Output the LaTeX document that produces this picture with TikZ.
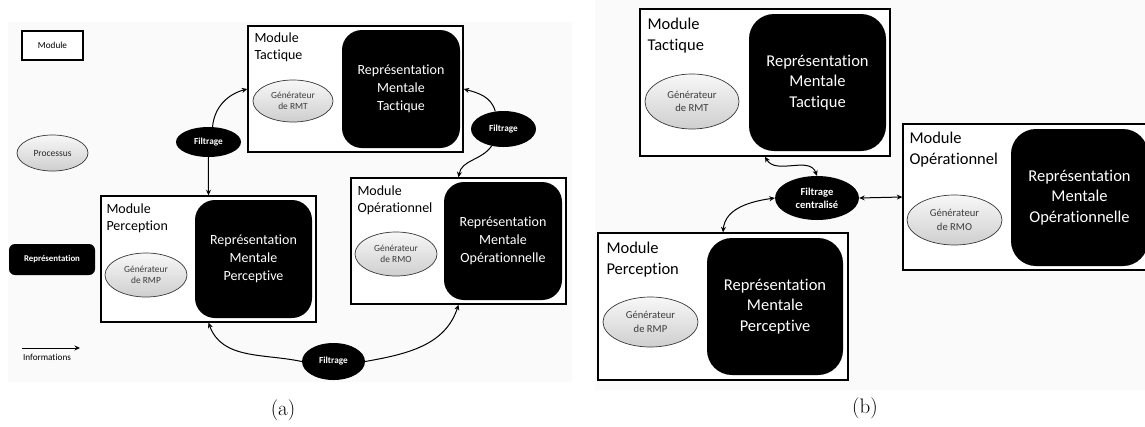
\documentclass[tikz,border=0pt]{standalone}
\usepackage{fontspec}
\newfontfamily\calfont[Ligatures=NoCommon]{Carlito}
\usetikzlibrary{shapes.geometric,arrows.meta}
\definecolor{bgc}{RGB}{250,250,250}
\definecolor{gentext}{RGB}{60,60,60}
\definecolor{genborder}{RGB}{55,55,55}
\begin{document}
\begin{tikzpicture}[x=1pt,y=1pt,
  modbox/.style={draw=black, line width=1.4pt, fill=white, rectangle, inner sep=0pt},
  modbigA/.style={modbox, minimum width=215pt, minimum height=126pt},
  modbigB/.style={modbox, minimum width=250pt, minimum height=147pt},
  labA/.style={anchor=north west, inner sep=0pt, align=left, font=\calfont\fontsize{14}{17}\selectfont},
  labB/.style={anchor=north west, inner sep=0pt, align=left, font=\calfont\fontsize{16.5}{20.5}\selectfont},
  repA/.style={fill=black, text=white, rectangle, rounded corners=20pt, align=center, inner sep=0pt,
    minimum width=118pt, minimum height=118pt, font=\calfont\fontsize{14}{18}\selectfont},
  repB/.style={fill=black, text=white, rectangle, rounded corners=25pt, align=center, inner sep=0pt,
    minimum width=137pt, minimum height=137pt, font=\calfont\fontsize{16.5}{20.5}\selectfont},
  gen/.style={ellipse, draw=genborder, line width=0.7pt, top color=gray!6, bottom color=gray!38,
    text=gentext, align=center, inner sep=0pt},
  genA/.style={gen, minimum width=82pt, minimum height=44pt, font=\calfont\fontsize{9.4}{11.5}\selectfont},
  genB/.style={gen, minimum width=95pt, minimum height=52pt, font=\calfont\fontsize{10.6}{13.5}\selectfont},
  filt/.style={ellipse, fill=black, text=white, align=center, inner sep=0pt,
    font=\calfont\bfseries\fontsize{9.3}{11}\selectfont},
  conn/.style={line width=1pt, -{Stealth[length=5.5pt,width=5pt]}},
  dconn/.style={line width=1pt, {Stealth[length=5.5pt,width=5pt]}-{Stealth[length=5.5pt,width=5pt]}},
  captxt/.style={inner sep=0pt, font=\rmfamily\fontsize{21}{24}\selectfont}
]
\useasboundingbox (0,0) rectangle (1145,-426);
\clip (0,0) rectangle (1145,-426);
% panel backgrounds
\fill[bgc] (8,-22) rectangle (572,-382);
\fill[bgc] (595,0) rectangle (1145,-390);

% ---------- panel (a): legend ----------
\node[modbox, line width=1.3pt, minimum width=61pt, minimum height=29pt,
  font=\calfont\fontsize{9.2}{11}\selectfont] (legMod) at (52.5,-45.5) {Module};
\node[gen, minimum width=71pt, minimum height=36pt, text=black!85,
  font=\calfont\fontsize{9.5}{11}\selectfont] (legProc) at (52.5,-153) {Processus};
\node[fill=black, text=white, rectangle, rounded corners=6pt, inner sep=0pt,
  minimum width=86pt, minimum height=31pt,
  font=\calfont\bfseries\fontsize{8.8}{11}\selectfont] (legRep) at (52,-259.5) {Représentation};
\coordinate (infoS) at (22,-348);
\coordinate (infoE) at (80,-348);
\draw[conn] (infoS) -- (infoE);
\node[inner sep=0pt, font=\calfont\fontsize{9.2}{11}\selectfont] (legInfo) at (47,-357.5) {Informations};

% ---------- panel (a): modules ----------
\node[modbigA] (tacA) at (355.5,-89) {};
\node[labA] (labTA) at ([shift={(7pt,-7pt)}]tacA.north west) {Module\\Tactique};
\node[repA] (repTA) at (401,-89) {Représentation\\Mentale\\Tactique};
\node[genA, minimum width=80pt, minimum height=42pt] (genTA) at (293,-101) {Générateur\\de RMT};

\node[modbigA] (percA) at (208.5,-259) {};
\node[labA] (labPA) at ([shift={(6pt,-8pt)}]percA.north west) {Module\\Perception};
\node[repA, minimum width=117pt] (repPA) at (253.5,-259) {Représentation\\Mentale\\Perceptive};
\node[genA] (genPA) at (146,-275) {Générateur\\de RMP};

\node[modbigA] (opA) at (458.5,-241) {};
\node[labA] (labOA) at ([shift={(7pt,-8pt)}]opA.north west) {Module\\Opérationnel};
\node[repA] (repOA) at (503,-241) {Représentation\\Mentale\\Opérationnelle};
\node[genA] (genOA) at (396,-254) {Générateur\\de RMO};

\node[filt, minimum width=65pt, minimum height=30pt] (filtL) at (208.5,-142) {Filtrage};
\node[filt, minimum width=65pt, minimum height=36pt] (filtR) at (503.5,-129) {Filtrage};
\node[filt, minimum width=63pt, minimum height=37pt] (filtB) at (333.5,-361.5) {Filtrage};

\draw[conn] (filtL.75) to[out=85,in=195] (tacA.west);
\draw[conn] (filtL.south) to[out=-92,in=90] (percA.north);
\draw[conn] (filtR.115) to[out=105,in=-15] (tacA.east);
\draw[conn] (filtR.235) to[out=235,in=80] (opA.north);
\draw[conn] (filtB.west) to[out=168,in=-70] (percA.south);
\draw[conn] (filtB.east) to[out=10,in=-108] (opA.south);

\node[captxt] (capA) at (283,-410) {(a)};

% ---------- panel (b) ----------
\node[modbigB] (tacB) at (765,-82.5) {};
\node[labB] (labTB) at ([shift={(8pt,-10pt)}]tacB.north west) {Module\\Tactique};
\node[repB] (repTB) at (817.5,-82.5) {Représentation\\Mentale\\Tactique};
\node[genB, minimum width=94pt, minimum height=55pt] (genTB) at (692,-101.5) {Générateur\\de RMT};

\node[modbigB] (percB) at (723,-306.5) {};
\node[labB] (labPB) at ([shift={(9pt,-10pt)}]percB.north west) {Module\\Perception};
\node[repB, minimum width=136pt] (repPB) at (775,-306.5) {Représentation\\Mentale\\Perceptive};
\node[genB, minimum height=50pt] (genPB) at (650.5,-322) {Générateur\\de RMP};

\node[modbigB, minimum height=146pt] (opB) at (1028,-197) {};
\node[labB] (labOB) at ([shift={(7pt,-9pt)}]opB.north west) {Module\\Opérationnel};
\node[repB] (repOB) at (1079.5,-197.5) {Représentation\\Mentale\\Opérationnelle};
\node[genB, minimum height=50pt] (genOB) at (954.5,-220) {Générateur\\de RMO};

\node[filt, minimum width=84pt, minimum height=44pt, font=\calfont\bfseries\fontsize{10.6}{13}\selectfont]
  (filtC) at (817,-198) {Filtrage\\centralisé};

\draw[dconn] (tacB.south) to[out=-60,in=110] (filtC.north);
\draw[dconn] (filtC.west) to[out=188,in=85] (percB.north);
\draw[dconn] (filtC.east) -- (opB.west);

\node[captxt] (capB) at (865,-408) {(b)};
\end{tikzpicture}
\end{document}
